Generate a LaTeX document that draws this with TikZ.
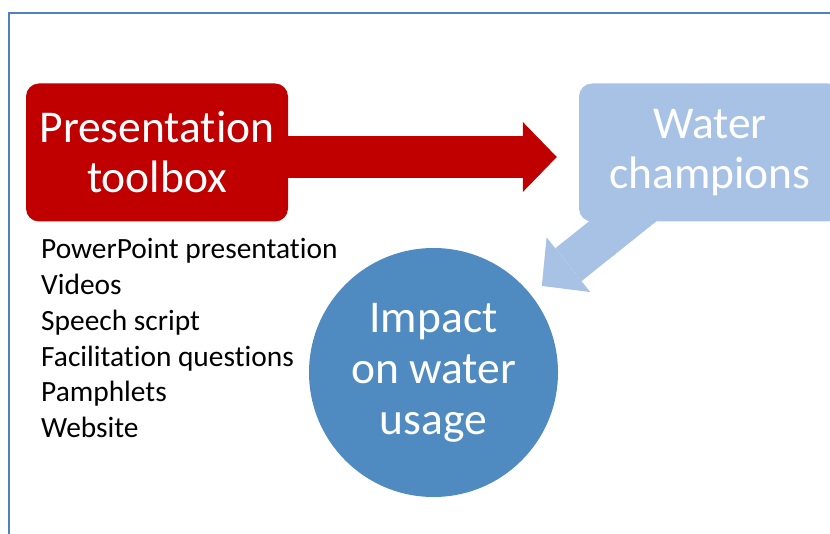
\documentclass[tikz,border=0pt]{standalone}
\usepackage{fontspec}
\setmainfont{Carlito}[RawFeature={-liga;-clig;-dlig;-calt;-rlig;-hlig}]
\usetikzlibrary{arrows.meta,backgrounds}
\definecolor{frame}{HTML}{4F81BD}
\definecolor{toolred}{HTML}{C00000}
\definecolor{champblue}{HTML}{A7C2E4}
\definecolor{impactblue}{HTML}{4F8BC1}
\tikzset{
  box/.style={rectangle, rounded corners=13pt, minimum width=262pt, minimum height=138pt,
    inner sep=0pt, text=white, align=center, font=\fontsize{45.5}{50}\selectfont},
  ball/.style={circle, minimum size=249pt, inner sep=0pt, fill=impactblue, text=white,
    align=center, font=\fontsize{45.5}{51}\selectfont},
  bigarrow/.style={line width=42pt, -{Triangle[length=34pt,width=70pt,line width=0pt]}},
  item/.style={anchor=base west, inner sep=0pt, font=\fontsize{29.4}{35}\selectfont}
}

\begin{document}
\begin{tikzpicture}[x=1pt,y=-1pt]
  \useasboundingbox (0,0) rectangle (830,534);
  \clip (0,0) rectangle (830,534);
  \draw[frame, line width=1.8pt] (9,534) -- (9,13) -- (831,13);

  \node[box, fill=toolred] (tool) at (157,152.5) {Presentation\\toolbox};
  \node[box, fill=champblue] (champ) at (710,152.5) {Water\\champions};
  \node[ball] (impact) at (433.5,372.5) {Impact\\on water\\usage};

  \foreach \lbl [count=\i from 0] in {PowerPoint presentation, Videos, Speech script,
      Facilitation questions, Pamphlets, Website}
    \node[item] (item\i) at (41,259+35.7*\i) {\lbl};

  % arrows behind the shapes
  \begin{scope}[on background layer]
    \draw[bigarrow, toolred, shorten >=22pt] ([yshift=-4.5pt]tool.east) -- ([yshift=-4.5pt]champ.west);
    \draw[bigarrow, champblue, shorten >=14pt] ([shift={(-64pt,19pt)}]champ.south) -- (impact);
  \end{scope}
\end{tikzpicture}
\end{document}
